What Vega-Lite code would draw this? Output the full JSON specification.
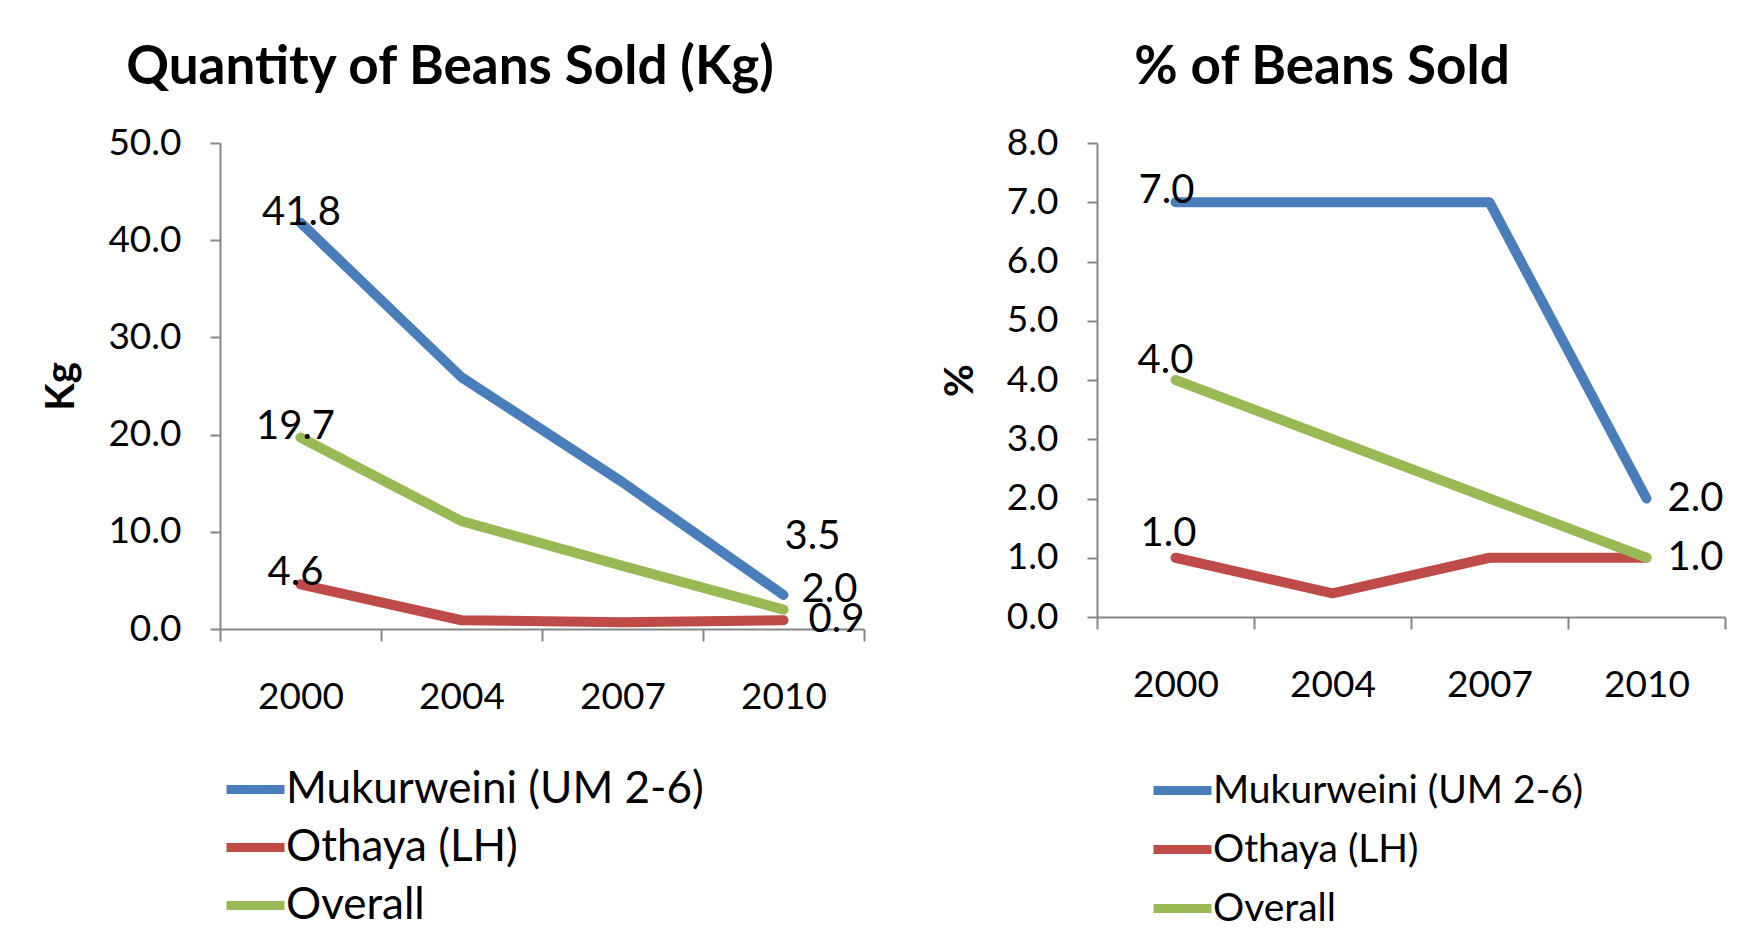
{
  "$schema": "https://vega.github.io/schema/vega-lite/v6.json",
  "padding": {"left": 41, "top": 42, "right": 5, "bottom": 5},
  "background": "white",
  "spacing": 233,
  "bounds": "flush",
  "config": {
    "font": "Lato",
    "view": {"stroke": null},
    "axis": {
      "labelFont": "Lato", "labelColor": "black", "labelFontSize": 37,
      "titleFont": "Lato", "titleColor": "black", "titleFontWeight": "bold", "titleFontSize": 40,
      "domainColor": "#868686", "tickColor": "#868686", "domainWidth": 2, "tickWidth": 2, "grid": false
    },
    "title": {"font": "Lato", "fontWeight": "bold", "fontSize": 53, "color": "black"},
    "text": {"font": "Lato", "fontSize": 40, "color": "black"}
  },
  "datasets": {
    "kg": [
      {"year": "2000", "series": "Mukurweini (UM 2-6)", "value": 41.8},
      {"year": "2004", "series": "Mukurweini (UM 2-6)", "value": 25.9},
      {"year": "2007", "series": "Mukurweini (UM 2-6)", "value": 15.1},
      {"year": "2010", "series": "Mukurweini (UM 2-6)", "value": 3.5},
      {"year": "2000", "series": "Othaya (LH)", "value": 4.6},
      {"year": "2004", "series": "Othaya (LH)", "value": 0.9},
      {"year": "2007", "series": "Othaya (LH)", "value": 0.7},
      {"year": "2010", "series": "Othaya (LH)", "value": 0.9},
      {"year": "2000", "series": "Overall", "value": 19.7},
      {"year": "2004", "series": "Overall", "value": 11.1},
      {"year": "2007", "series": "Overall", "value": 6.5},
      {"year": "2010", "series": "Overall", "value": 2.0}
    ],
    "pct": [
      {"year": "2000", "series": "Mukurweini (UM 2-6)", "value": 7.0},
      {"year": "2004", "series": "Mukurweini (UM 2-6)", "value": 7.0},
      {"year": "2007", "series": "Mukurweini (UM 2-6)", "value": 7.0},
      {"year": "2010", "series": "Mukurweini (UM 2-6)", "value": 2.0},
      {"year": "2000", "series": "Othaya (LH)", "value": 1.0},
      {"year": "2004", "series": "Othaya (LH)", "value": 0.4},
      {"year": "2007", "series": "Othaya (LH)", "value": 1.0},
      {"year": "2010", "series": "Othaya (LH)", "value": 1.0},
      {"year": "2000", "series": "Overall", "value": 4.0},
      {"year": "2004", "series": "Overall", "value": 3.0},
      {"year": "2007", "series": "Overall", "value": 2.0},
      {"year": "2010", "series": "Overall", "value": 1.0}
    ]
  },
  "hconcat": [
    {
      "width": 644,
      "height": 486,
      "data": {"name": "kg"},
      "title": {"text": "Quantity of Beans Sold (Kg)", "anchor": "middle", "frame": "group", "dx": -92, "offset": 29},
      "encoding": {
        "x": {"field": "year", "type": "ordinal", "scale": {"paddingInner": 0, "paddingOuter": 0},
              "axis": {"title": null, "labelAngle": 0, "tickBand": "extent", "tickSize": 12, "labelPadding": 38}},
        "y": {"field": "value", "type": "quantitative", "scale": {"domain": [0, 50]},
              "axis": {"title": "Kg", "values": [0, 10, 20, 30, 40, 50], "format": ".1f", "tickSize": 10, "labelPadding": 29, "titlePadding": 26}}
      },
      "layer": [
        {
          "mark": {"type": "line", "strokeWidth": 10, "strokeCap": "round", "strokeJoin": "round"},
          "encoding": {
            "color": {"field": "series", "type": "nominal",
              "scale": {"domain": ["Mukurweini (UM 2-6)", "Othaya (LH)", "Overall"], "range": ["#4A7EBB", "#BE4B48", "#98B954"]},
              "legend": {"orient": "none", "legendX": 2, "legendY": 613, "title": null, "symbolType": "stroke", "symbolSize": 3364, "symbolStrokeWidth": 9,
                         "labelFont": "Lato", "labelFontSize": 44, "labelColor": "black", "labelLimit": 800, "rowPadding": 2, "labelOffset": -3, "padding": 0}
            }
          }
        },
        {
          "transform": [{"filter": "datum.year == '2000' && datum.series == 'Mukurweini (UM 2-6)'"}],
          "mark": {"type": "text", "dx": 1, "dy": -10, "baseline": "middle"},
          "encoding": {"text": {"field": "value", "type": "quantitative", "format": ".1f"}}
        },
        {
          "transform": [{"filter": "datum.year == '2000' && datum.series != 'Mukurweini (UM 2-6)'"}],
          "mark": {"type": "text", "dx": -5, "dy": -11, "baseline": "middle"},
          "encoding": {"text": {"field": "value", "type": "quantitative", "format": ".1f"}}
        },
        {
          "transform": [{"filter": "datum.year == '2010' && datum.series == 'Mukurweini (UM 2-6)'"}],
          "mark": {"type": "text", "dx": 29, "dy": -58, "baseline": "middle"},
          "encoding": {"text": {"field": "value", "type": "quantitative", "format": ".1f"}}
        },
        {
          "transform": [{"filter": "datum.year == '2010' && datum.series == 'Overall'"}],
          "mark": {"type": "text", "dx": 46, "dy": -20, "baseline": "middle"},
          "encoding": {"text": {"field": "value", "type": "quantitative", "format": ".1f"}}
        },
        {
          "transform": [{"filter": "datum.year == '2010' && datum.series == 'Othaya (LH)'"}],
          "mark": {"type": "text", "dx": 53, "dy": 0, "baseline": "middle"},
          "encoding": {"text": {"field": "value", "type": "quantitative", "format": ".1f"}}
        }
      ]
    },
    {
      "width": 628,
      "height": 474,
      "data": {"name": "pct"},
      "title": {"text": "% of Beans Sold", "anchor": "middle", "frame": "group", "dx": -89, "offset": 29},
      "encoding": {
        "x": {"field": "year", "type": "ordinal", "scale": {"paddingInner": 0, "paddingOuter": 0},
              "axis": {"title": null, "labelAngle": 0, "tickBand": "extent", "tickSize": 12, "labelPadding": 38}},
        "y": {"field": "value", "type": "quantitative", "scale": {"domain": [0, 8]},
              "axis": {"title": "%", "values": [0, 1, 2, 3, 4, 5, 6, 7, 8], "format": ".1f", "tickSize": 10, "labelPadding": 29, "titlePadding": 26}}
      },
      "layer": [
        {
          "mark": {"type": "line", "strokeWidth": 10, "strokeCap": "round", "strokeJoin": "round"},
          "encoding": {
            "color": {"field": "series", "type": "nominal",
              "scale": {"domain": ["Mukurweini (UM 2-6)", "Othaya (LH)", "Overall"], "range": ["#4A7EBB", "#BE4B48", "#98B954"]},
              "legend": {"orient": "none", "legendX": 52, "legendY": 614, "title": null, "symbolType": "stroke", "symbolSize": 3364, "symbolStrokeWidth": 9,
                         "labelFont": "Lato", "labelFontSize": 39, "labelColor": "black", "labelLimit": 800, "rowPadding": 5, "labelOffset": -3, "padding": 0}
            }
          }
        },
        {
          "transform": [{"filter": "datum.year == '2000' && datum.series == 'Mukurweini (UM 2-6)'"}],
          "mark": {"type": "text", "dx": -9, "dy": -11, "baseline": "middle"},
          "encoding": {"text": {"field": "value", "type": "quantitative", "format": ".1f"}}
        },
        {
          "transform": [{"filter": "datum.year == '2000' && datum.series == 'Overall'"}],
          "mark": {"type": "text", "dx": -10, "dy": -19, "baseline": "middle"},
          "encoding": {"text": {"field": "value", "type": "quantitative", "format": ".1f"}}
        },
        {
          "transform": [{"filter": "datum.year == '2000' && datum.series == 'Othaya (LH)'"}],
          "mark": {"type": "text", "dx": -7, "dy": -24, "baseline": "middle"},
          "encoding": {"text": {"field": "value", "type": "quantitative", "format": ".1f"}}
        },
        {
          "transform": [{"filter": "datum.year == '2010' && datum.series != 'Othaya (LH)'"}],
          "mark": {"type": "text", "dx": 49, "dy": 0, "baseline": "middle"},
          "encoding": {"text": {"field": "value", "type": "quantitative", "format": ".1f"}}
        }
      ]
    }
  ],
  "resolve": {
    "scale": {"x": "independent", "y": "independent", "color": "independent"},
    "legend": {"color": "independent"}
  }
}
